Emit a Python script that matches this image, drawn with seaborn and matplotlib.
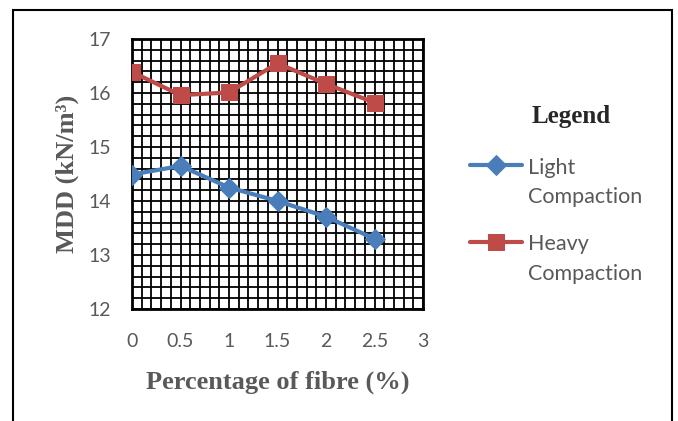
import numpy as np
import pandas as pd
import matplotlib.pyplot as plt
import matplotlib.patches as mpatches
from matplotlib.ticker import MultipleLocator
import seaborn as sns

# Data
fibre_pct = [0, 0.5, 1, 1.5, 2, 2.5]
light_mdd = [14.49, 14.65, 14.25, 14.00, 13.71, 13.30]
heavy_mdd = [16.39, 15.96, 16.01, 16.55, 16.17, 15.82]
series_names = ['Light\nCompaction', 'Heavy\nCompaction']
x_ticks = [0, 0.5, 1, 1.5, 2, 2.5, 3]
x_ticklabels = ['0', '0.5', '1', '1.5', '2', '2.5', '3']

sns.set_style('white')
plt.rcParams['font.family'] = ['Lato', 'DejaVu Sans']

fig = plt.figure(figsize=(6.78, 4.21), dpi=100)
ax = fig.add_axes([132 / 678, 1 - 309 / 421, 291 / 678, 270 / 421])

blue = '#4A7EBB'
red = '#BE4B48'

sns.lineplot(x=fibre_pct, y=light_mdd, ax=ax, color=blue, lw=3, marker='D',
             markersize=10.5, markeredgecolor=blue, label=series_names[0], zorder=5)
sns.lineplot(x=fibre_pct, y=heavy_mdd, ax=ax, color=red, lw=3, marker='s',
             markersize=12, markeredgecolor=red, label=series_names[1], zorder=5)

ax.set_xlim(0, 3)
ax.set_ylim(12, 17)
ax.set_xticks(x_ticks)
ax.set_xticklabels(x_ticklabels)
ax.yaxis.set_major_locator(MultipleLocator(1))
ax.xaxis.set_minor_locator(MultipleLocator(0.1))
ax.yaxis.set_minor_locator(MultipleLocator(0.2))
ax.grid(which='both', color='black', lw=1.3)
ax.set_axisbelow(True)
for s in ax.spines.values():
    s.set_visible(True)
    s.set_color('black')
    s.set_linewidth(2)
ax.tick_params(which='both', length=0, labelsize=14, labelcolor='#595959')
ax.tick_params(axis='x', pad=17)
ax.tick_params(axis='y', pad=15)

lab_font = dict(family='Liberation Serif', weight='bold', size=19, color='#595959')
ax.set_xlabel('Percentage of fibre (%)', labelpad=15, **lab_font)
ax.set_ylabel('MDD (kN/m³)', labelpad=7, **lab_font)

leg = ax.legend(loc='upper left', bbox_to_anchor=(451 / 678, 1 - 86 / 421),
                bbox_transform=fig.transFigure, frameon=False,
                title='Legend', fontsize=15.5, handlelength=2.4, handletextpad=0.28,
                labelspacing=1.25,
                title_fontproperties=dict(family='Liberation Serif', weight='bold', size=18))
for t in leg.get_texts():
    t.set_color('#595959')
    t.set_linespacing(1.6)
leg._legend_box.sep = 21
leg.get_title().set_x(15)
# put each legend handle beside the first line of its label
for col in leg._legend_handle_box.get_children():
    for row in col.get_children():
        row.align = 'top'

# outer chart frame
fig.patches.append(mpatches.Rectangle((12.5 / 678, -0.05), 659 / 678, 1.05 - 10 / 421,
                                      transform=fig.transFigure, fill=False,
                                      edgecolor='black', lw=1.5))

fig.savefig('out.png', dpi=100)
